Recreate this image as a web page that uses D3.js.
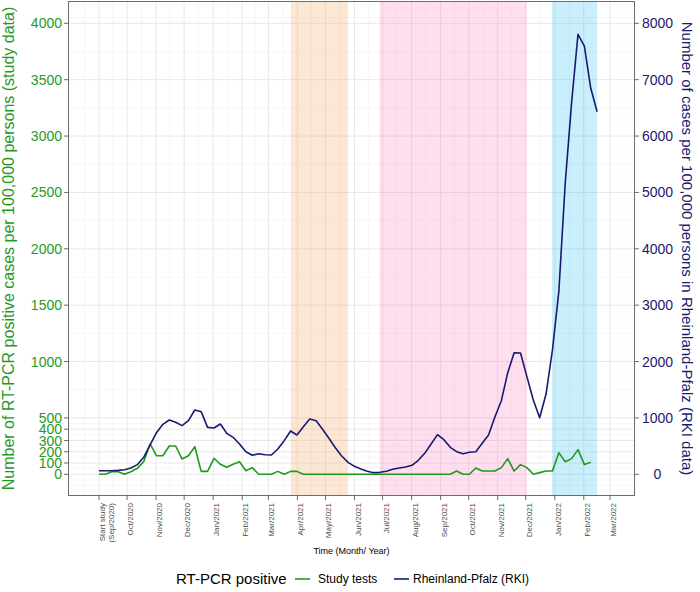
<!DOCTYPE html>
<html><head><meta charset="utf-8">
<script src="https://cdn.jsdelivr.net/npm/d3@7"></script>
<style>body{margin:0;background:#fff}svg{display:block;font-family:"Liberation Sans",Arial,sans-serif}</style>
</head><body><svg id="c" width="700" height="592"></svg>
<script>
// ---------- data ----------
const tickDates = ["2020-09-01","2020-10-01","2020-11-01","2020-12-01","2021-01-01","2021-02-01","2021-03-01","2021-04-01","2021-05-01","2021-06-01","2021-07-01","2021-08-01","2021-09-01","2021-10-01","2021-11-01","2021-12-01","2022-01-01","2022-02-01","2022-03-01"];
const tickLabels = [["Start study","(Sep/2020)"],["Oct/2020"],["Nov/2020"],["Dec/2020"],["Jan/2021"],["Feb/2021"],["Mar/2021"],["Apr/2021"],["May/2021"],["Jun/2021"],["Jul/2021"],["Aug/2021"],["Sep/2021"],["Oct/2021"],["Nov/2021"],["Dec/2021"],["Jan/2022"],["Feb/2022"],["Mar/2022"]];
const leftTicks = [0,100,200,300,400,500,1000,1500,2000,2500,3000,3500,4000];
const rightTicks = [0,1000,2000,3000,4000,5000,6000,7000,8000];
const startDate = "2020-09-01";
const stepDays = 6.824; // spacing of observation rounds
const studyTests = [0,0,23,23,0,23,53,112,269,165,165,251,251,136,165,245,26,26,142,89,62,89,112,32,59,0,0,0,26,0,26,26,
  0,0,0,0,0,0,0,0,0,0,0,0,0,0,0,0,0,0,0,0,0,0,0,0,
  29,0,0,56,29,29,29,59,139,29,86,59,0,15,29,29,192,112,139,219,86,106];
const rkiRLP = [64,64,64,70,82,112,171,301,520,739,
  887,963,922,863,951,1141,1111,833,821,892,
  727,656,538,401,337,366,348,342,449,597,
  768,697,845,981,951,798,638,472,325,212,
  141,94,53,29,35,53,88,112,130,159,
  248,372,537,703,614,479,401,366,390,401,
  549,697,1022,1306,1803,2157,2152,1732,1318,1004,
  1424,2205,3239,5162,6592,7805,7597,6847,6432];
const periodStarts = ["2021-03-25","2021-06-28","2021-12-29"];
const periodEnds   = ["2021-05-25","2021-12-02","2022-02-15"];
const periodColors = ["#f4a460","#ff69b4","#00b4f0"];
const periodOpacity = [0.27,0.21,0.21];
const legendLabels = ["Study tests","Rheinland-Pfalz (RKI)"];
const GREEN = "#1f9a1f", NAVY = "#191970";

// ---------- scales ----------
const svg = d3.select("#c");
const P = {l:68, r:635, t:1, b:496};
const parse = d3.utcParse("%Y-%m-%d");
const x = d3.scaleUtc().domain([parse("2020-09-01"), parse("2022-03-01")]).range([99, 610]);
const yL = d3.scaleLinear().domain([0,4000]).range([474.3, 23.3]);
const yR = d3.scaleLinear().domain([0,8000]).range([474.3, 23.3]);
const t0 = parse(startDate).getTime();
const dateAt = i => new Date(t0 + i*stepDays*864e5);

// ---------- grid ----------
const g = svg.append("g");
svg.append("clipPath").attr("id","pc").append("rect").attr("x",P.l).attr("y",P.t).attr("width",P.r-P.l).attr("height",P.b-P.t);
const td = tickDates.map(parse);
let ext = [new Date(td[0].getTime() - (td[1]-td[0])), ...td, new Date(td[td.length-1].getTime() + (td[1]-td[0]))];
let minorX = [];
for (let i=0;i<ext.length-1;i++){ minorX.push(ext[i]); minorX.push(new Date((ext[i].getTime()+ext[i+1].getTime())/2)); }
minorX = minorX.filter(d => !td.some(t=>t.getTime()===d.getTime()));
const grid = g.append("g").attr("clip-path","url(#pc)");
grid.selectAll(".mx").data(minorX).join("line").attr("x1",d=>x(d)).attr("x2",d=>x(d)).attr("y1",P.t).attr("y2",P.b).attr("stroke","#f2f2f2").attr("stroke-width",0.6);
let extY = [-100, ...leftTicks, 4100];
let minorY = [];
for (let i=0;i<extY.length-1;i++){ minorY.push(extY[i]); minorY.push((extY[i]+extY[i+1])/2); }
minorY = minorY.filter(v => !leftTicks.includes(v));
grid.selectAll(".my").data(minorY).join("line").attr("y1",d=>yL(d)).attr("y2",d=>yL(d)).attr("x1",P.l).attr("x2",P.r).attr("stroke","#f2f2f2").attr("stroke-width",0.6);
grid.selectAll(".Mx").data(td).join("line").attr("x1",d=>x(d)).attr("x2",d=>x(d)).attr("y1",P.t).attr("y2",P.b).attr("stroke","#e8e8e8").attr("stroke-width",1);
grid.selectAll(".My").data(leftTicks).join("line").attr("y1",d=>yL(d)).attr("y2",d=>yL(d)).attr("x1",P.l).attr("x2",P.r).attr("stroke","#e8e8e8").attr("stroke-width",1);

// ---------- shaded periods ----------
grid.selectAll(".per").data(periodStarts).join("rect")
  .attr("x",(d)=>x(parse(d))).attr("width",(d,i)=>x(parse(periodEnds[i]))-x(parse(d)))
  .attr("y",P.t).attr("height",P.b-P.t).attr("fill",(d,i)=>periodColors[i]).attr("fill-opacity",(d,i)=>periodOpacity[i]);

// ---------- lines ----------
const lg = g.append("g").attr("clip-path","url(#pc)");
lg.append("path").datum(studyTests).attr("fill","none").attr("stroke",GREEN).attr("stroke-width",1.6).attr("stroke-linejoin","round")
  .attr("d", d3.line().x((d,i)=>x(dateAt(i))).y(d=>yL(d)));
lg.append("path").datum(rkiRLP).attr("fill","none").attr("stroke",NAVY).attr("stroke-width",1.6).attr("stroke-linejoin","round")
  .attr("d", d3.line().x((d,i)=>x(dateAt(i))).y(d=>yR(d)));

// ---------- border ----------
g.append("rect").attr("x",P.l+0.5).attr("y",P.t+0.5).attr("width",P.r-P.l-1).attr("height",P.b-P.t-1).attr("fill","none").attr("stroke","#6b6b6b").attr("stroke-width",1);

// ---------- axes ----------
const ax = svg.append("g");
const la = ax.append("g");
la.selectAll("line").data(leftTicks).join("line").attr("x1",P.l-4).attr("x2",P.l).attr("y1",d=>yL(d)).attr("y2",d=>yL(d)).attr("stroke","#6b6b6b");
la.selectAll("text").data(leftTicks).join("text").attr("x",P.l-6).attr("y",d=>yL(d)).attr("dy","0.36em").attr("text-anchor","end")
  .attr("font-size",14).attr("fill",GREEN).text(d=>d);
const ra = ax.append("g");
ra.selectAll("line").data(rightTicks).join("line").attr("x1",P.r).attr("x2",P.r+4).attr("y1",d=>yR(d)).attr("y2",d=>yR(d)).attr("stroke","#6b6b6b");
ra.selectAll("text").data(rightTicks).join("text").attr("x",657.5).attr("y",d=>yR(d)).attr("dy","0.36em").attr("text-anchor","middle")
  .attr("font-size",14).attr("fill",NAVY).text(d=>d);
const ba = ax.append("g");
ba.selectAll("line").data(td).join("line").attr("x1",d=>x(d)).attr("x2",d=>x(d)).attr("y1",P.b).attr("y2",P.b+4).attr("stroke","#6b6b6b");
const bt = ba.selectAll("text").data(td).join("text")
  .attr("transform",d=>`translate(${x(d)},503) rotate(-90)`).attr("text-anchor","end").attr("font-size",8).attr("fill","#4d4d4d");
bt.each(function(d,i){
  const t = d3.select(this);
  tickLabels[i].forEach((s,k)=>{ t.append("tspan").attr("x",0).attr("y", 6 + k*9).text(s); });
});

// titles
svg.append("text").attr("transform",`translate(13.5,${(P.t+P.b)/2}) rotate(-90)`).attr("text-anchor","middle").attr("font-size",16).attr("fill",GREEN)
  .text("Number of RT-PCR positive cases per 100,000 persons (study data)");
svg.append("text").attr("transform",`translate(682,${(P.t+P.b)/2}) rotate(90)`).attr("text-anchor","middle").attr("font-size",15).attr("fill",NAVY)
  .text("Number of cases per 100,000 persons in Rheinland-Pfalz (RKI data)");
svg.append("text").attr("x",(P.l+P.r)/2).attr("y",554).attr("text-anchor","middle").attr("font-size",9).attr("fill","#000").text("Time (Month/ Year)");

// legend
const leg = svg.append("g");
leg.append("text").attr("x",176).attr("y",584).attr("font-size",15).attr("fill","#000").text("RT-PCR positive");
const keyX = [295, 394], labX = [318, 413];
[GREEN, NAVY].forEach((c,i)=>{
  leg.append("line").attr("x1",keyX[i]).attr("x2",keyX[i]+15).attr("y1",579).attr("y2",579).attr("stroke",c).attr("stroke-width",1.6);
  leg.append("text").attr("x",labX[i]).attr("y",583).attr("font-size",12).attr("fill","#000").text(legendLabels[i]);
});
</script></body></html>
